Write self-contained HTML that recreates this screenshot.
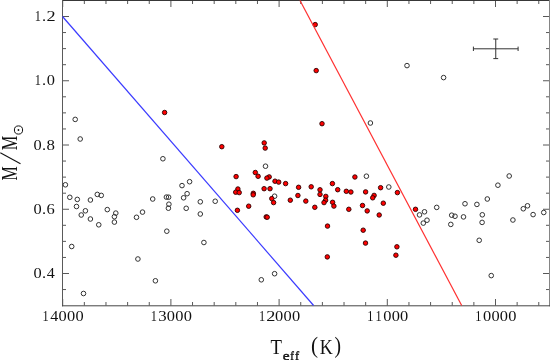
<!DOCTYPE html>
<html><head><meta charset="utf-8"><style>
html,body{margin:0;padding:0;background:#fff;}
svg{display:block;will-change:transform;}
text{-webkit-font-smoothing:antialiased;}
</style></head><body>
<svg width="550" height="360" viewBox="0 0 550 360">
<rect width="550" height="360" fill="#fff"/>
<path d="M62.70 305.5V299.00M62.70 0.5V7.00M84.34 305.5V302.00M84.34 0.5V4.00M105.98 305.5V302.00M105.98 0.5V4.00M127.62 305.5V302.00M127.62 0.5V4.00M149.26 305.5V302.00M149.26 0.5V4.00M170.90 305.5V299.00M170.90 0.5V7.00M192.54 305.5V302.00M192.54 0.5V4.00M214.18 305.5V302.00M214.18 0.5V4.00M235.82 305.5V302.00M235.82 0.5V4.00M257.46 305.5V302.00M257.46 0.5V4.00M279.10 305.5V299.00M279.10 0.5V7.00M300.74 305.5V302.00M300.74 0.5V4.00M322.38 305.5V302.00M322.38 0.5V4.00M344.02 305.5V302.00M344.02 0.5V4.00M365.66 305.5V302.00M365.66 0.5V4.00M387.30 305.5V299.00M387.30 0.5V7.00M408.94 305.5V302.00M408.94 0.5V4.00M430.58 305.5V302.00M430.58 0.5V4.00M452.22 305.5V302.00M452.22 0.5V4.00M473.86 305.5V302.00M473.86 0.5V4.00M495.50 305.5V299.00M495.50 0.5V7.00M517.14 305.5V302.00M517.14 0.5V4.00M538.78 305.5V302.00M538.78 0.5V4.00M62.5 289.56H66.00M549.5 289.56H546.00M62.5 273.50H69.00M549.5 273.50H543.00M62.5 257.44H66.00M549.5 257.44H546.00M62.5 241.37H66.00M549.5 241.37H546.00M62.5 225.31H66.00M549.5 225.31H546.00M62.5 209.25H69.00M549.5 209.25H543.00M62.5 193.19H66.00M549.5 193.19H546.00M62.5 177.12H66.00M549.5 177.12H546.00M62.5 161.06H66.00M549.5 161.06H546.00M62.5 145.00H69.00M549.5 145.00H543.00M62.5 128.94H66.00M549.5 128.94H546.00M62.5 112.87H66.00M549.5 112.87H546.00M62.5 96.81H66.00M549.5 96.81H546.00M62.5 80.75H69.00M549.5 80.75H543.00M62.5 64.69H66.00M549.5 64.69H546.00M62.5 48.62H66.00M549.5 48.62H546.00M62.5 32.56H66.00M549.5 32.56H546.00M62.5 16.50H69.00M549.5 16.50H543.00" stroke="#585858" stroke-width="1" fill="none"/>
<path d="M62 0.5H550" stroke="#383838" stroke-width="1"/>
<path d="M62.5 0V306.3" stroke="#5a5a5a" stroke-width="1"/>
<path d="M549.5 0V306.3" stroke="#858585" stroke-width="1"/>
<path d="M62 305.8H550" stroke="#454545" stroke-width="1"/>
<path d="M473.4 48.8H518.1M495.75 39V58.6M473.4 46.6V51M518.1 46.6V51M493.3 39H498.2M493.3 58.6H498.2" stroke="#333" stroke-width="1" fill="none"/>
<g fill="none" stroke="#333" stroke-width="1"><circle cx="65.4" cy="184.8" r="2.3"/><circle cx="69.8" cy="197.3" r="2.3"/><circle cx="77.3" cy="199.4" r="2.3"/><circle cx="76.5" cy="206.5" r="2.3"/><circle cx="81.25" cy="215" r="2.3"/><circle cx="85.4" cy="210.8" r="2.3"/><circle cx="90.4" cy="200" r="2.3"/><circle cx="90.4" cy="219" r="2.3"/><circle cx="97.3" cy="194.4" r="2.3"/><circle cx="101.25" cy="195.4" r="2.3"/><circle cx="98.75" cy="224.8" r="2.3"/><circle cx="107.3" cy="209.6" r="2.3"/><circle cx="115.8" cy="213.1" r="2.3"/><circle cx="114.4" cy="216.7" r="2.3"/><circle cx="114.4" cy="222.1" r="2.3"/><circle cx="136.5" cy="217.3" r="2.3"/><circle cx="142.5" cy="212.1" r="2.3"/><circle cx="152.7" cy="199" r="2.3"/><circle cx="71.7" cy="246.5" r="2.3"/><circle cx="83.5" cy="293.5" r="2.3"/><circle cx="137.9" cy="259" r="2.3"/><circle cx="155.4" cy="280.8" r="2.3"/><circle cx="75.2" cy="119.4" r="2.3"/><circle cx="80.2" cy="139" r="2.3"/><circle cx="162.9" cy="158.75" r="2.3"/><circle cx="166.4" cy="197.1" r="2.3"/><circle cx="168.6" cy="197.2" r="2.3"/><circle cx="168.9" cy="204.2" r="2.3"/><circle cx="168.4" cy="208.2" r="2.3"/><circle cx="182" cy="185.6" r="2.3"/><circle cx="189.6" cy="181.7" r="2.3"/><circle cx="187.1" cy="193.7" r="2.3"/><circle cx="183.6" cy="197.8" r="2.3"/><circle cx="186.2" cy="208.3" r="2.3"/><circle cx="200.3" cy="201.8" r="2.3"/><circle cx="200.3" cy="214" r="2.3"/><circle cx="215.2" cy="201.25" r="2.3"/><circle cx="166.8" cy="231.2" r="2.3"/><circle cx="203.9" cy="242.5" r="2.3"/><circle cx="261.3" cy="279.8" r="2.3"/><circle cx="274.6" cy="273.7" r="2.3"/><circle cx="265.5" cy="166.2" r="2.3"/><circle cx="274.6" cy="196.2" r="2.3"/><circle cx="366.4" cy="176.2" r="2.3"/><circle cx="388.8" cy="187" r="2.3"/><circle cx="424.5" cy="211.8" r="2.3"/><circle cx="419.5" cy="214.9" r="2.3"/><circle cx="427" cy="220.2" r="2.3"/><circle cx="423.3" cy="223.1" r="2.3"/><circle cx="436.7" cy="207.4" r="2.3"/><circle cx="451.7" cy="215.2" r="2.3"/><circle cx="455" cy="216.25" r="2.3"/><circle cx="450.8" cy="224.4" r="2.3"/><circle cx="463.5" cy="216.9" r="2.3"/><circle cx="465" cy="203.75" r="2.3"/><circle cx="476.9" cy="204.4" r="2.3"/><circle cx="487.3" cy="199" r="2.3"/><circle cx="482.3" cy="214.8" r="2.3"/><circle cx="482.1" cy="222.4" r="2.3"/><circle cx="479.2" cy="240.3" r="2.3"/><circle cx="509.2" cy="176" r="2.3"/><circle cx="497.9" cy="185.2" r="2.3"/><circle cx="512.9" cy="220" r="2.3"/><circle cx="523.3" cy="208.75" r="2.3"/><circle cx="527.5" cy="205.8" r="2.3"/><circle cx="533.1" cy="214.6" r="2.3"/><circle cx="543.75" cy="212.5" r="2.3"/><circle cx="491.25" cy="275.6" r="2.3"/><circle cx="407" cy="65.6" r="2.3"/><circle cx="443.6" cy="77.6" r="2.3"/><circle cx="370.4" cy="123" r="2.3"/></g>
<g fill="#ff0000" stroke="#2a0000" stroke-width="0.9"><circle cx="164.6" cy="112.5" r="2.25"/><circle cx="221.8" cy="146.7" r="2.25"/><circle cx="236.1" cy="176.6" r="2.25"/><circle cx="237.9" cy="189" r="2.25"/><circle cx="235.7" cy="192.2" r="2.25"/><circle cx="239.2" cy="192.6" r="2.25"/><circle cx="237.4" cy="210.3" r="2.25"/><circle cx="248.7" cy="206.2" r="2.25"/><circle cx="253.3" cy="193.3" r="2.25"/><circle cx="253.2" cy="194.8" r="2.25"/><circle cx="255.3" cy="172.5" r="2.25"/><circle cx="258.1" cy="176.3" r="2.25"/><circle cx="269.2" cy="176.9" r="2.25"/><circle cx="266.9" cy="178.1" r="2.25"/><circle cx="264.1" cy="188.7" r="2.25"/><circle cx="270" cy="188.7" r="2.25"/><circle cx="271.8" cy="198.6" r="2.25"/><circle cx="273.6" cy="202.6" r="2.25"/><circle cx="266.2" cy="216.9" r="2.25"/><circle cx="267.2" cy="217.2" r="2.25"/><circle cx="275" cy="181.2" r="2.25"/><circle cx="278.7" cy="182.1" r="2.25"/><circle cx="285.6" cy="183.6" r="2.25"/><circle cx="298.6" cy="187.3" r="2.25"/><circle cx="311.2" cy="186.8" r="2.25"/><circle cx="297.9" cy="195.5" r="2.25"/><circle cx="290.3" cy="200.2" r="2.25"/><circle cx="305.8" cy="201.1" r="2.25"/><circle cx="314.8" cy="207.3" r="2.25"/><circle cx="264.2" cy="142.9" r="2.25"/><circle cx="265.2" cy="148.1" r="2.25"/><circle cx="320" cy="189.8" r="2.25"/><circle cx="320" cy="194.4" r="2.25"/><circle cx="325.8" cy="196.4" r="2.25"/><circle cx="325.6" cy="200.2" r="2.25"/><circle cx="324" cy="202.6" r="2.25"/><circle cx="332.4" cy="183.6" r="2.25"/><circle cx="337.7" cy="189.7" r="2.25"/><circle cx="346.3" cy="191.3" r="2.25"/><circle cx="350.9" cy="192" r="2.25"/><circle cx="354.9" cy="177" r="2.25"/><circle cx="332.6" cy="202.3" r="2.25"/><circle cx="333.9" cy="206.1" r="2.25"/><circle cx="348.8" cy="209.3" r="2.25"/><circle cx="327.5" cy="226.1" r="2.25"/><circle cx="327.3" cy="256.9" r="2.25"/><circle cx="362.5" cy="205.5" r="2.25"/><circle cx="367.2" cy="210.9" r="2.25"/><circle cx="379.2" cy="215" r="2.25"/><circle cx="383.3" cy="203.2" r="2.25"/><circle cx="363.2" cy="230.2" r="2.25"/><circle cx="365.5" cy="243.1" r="2.25"/><circle cx="396.9" cy="246.8" r="2.25"/><circle cx="395.9" cy="255.2" r="2.25"/><circle cx="365.6" cy="191.9" r="2.25"/><circle cx="374.1" cy="195.4" r="2.25"/><circle cx="372.7" cy="197.8" r="2.25"/><circle cx="380.6" cy="187.7" r="2.25"/><circle cx="397.4" cy="192.6" r="2.25"/><circle cx="415.5" cy="209.3" r="2.25"/><circle cx="315.2" cy="24.6" r="2.25"/><circle cx="316.2" cy="70.6" r="2.25"/><circle cx="322" cy="123.7" r="2.25"/></g>
<line x1="62.5" y1="16.50" x2="313.6" y2="305.5" stroke="#3b3bff" stroke-width="1.2"/>
<line x1="300" y1="0.5" x2="461.7" y2="305.5" stroke="#ff3030" stroke-width="1.2"/>
<g font-family="Liberation Serif, serif" fill="#111"><text transform="translate(42.54 320.50) scale(0.878 1)" font-size="14.00">1</text><text transform="translate(50.23 320.50) scale(1.149 1)" font-size="14.00">4</text><text transform="translate(58.59 320.50) scale(1.173 1)" font-size="14.00">0</text><text transform="translate(67.04 320.50) scale(1.173 1)" font-size="14.00">0</text><text transform="translate(75.49 320.50) scale(1.173 1)" font-size="14.00">0</text><text transform="translate(150.74 320.50) scale(0.878 1)" font-size="14.00">1</text><text transform="translate(158.16 320.50) scale(1.202 1)" font-size="14.00">3</text><text transform="translate(166.79 320.50) scale(1.173 1)" font-size="14.00">0</text><text transform="translate(175.24 320.50) scale(1.173 1)" font-size="14.00">0</text><text transform="translate(183.69 320.50) scale(1.173 1)" font-size="14.00">0</text><text transform="translate(258.94 320.50) scale(0.878 1)" font-size="14.00">1</text><text transform="translate(266.27 320.50) scale(1.304 1)" font-size="14.00">2</text><text transform="translate(274.99 320.50) scale(1.173 1)" font-size="14.00">0</text><text transform="translate(283.44 320.50) scale(1.173 1)" font-size="14.00">0</text><text transform="translate(291.89 320.50) scale(1.173 1)" font-size="14.00">0</text><text transform="translate(367.14 320.50) scale(0.878 1)" font-size="14.00">1</text><text transform="translate(375.59 320.50) scale(0.878 1)" font-size="14.00">1</text><text transform="translate(383.19 320.50) scale(1.173 1)" font-size="14.00">0</text><text transform="translate(391.64 320.50) scale(1.173 1)" font-size="14.00">0</text><text transform="translate(400.09 320.50) scale(1.173 1)" font-size="14.00">0</text><text transform="translate(475.34 320.50) scale(0.878 1)" font-size="14.00">1</text><text transform="translate(482.94 320.50) scale(1.173 1)" font-size="14.00">0</text><text transform="translate(491.39 320.50) scale(1.173 1)" font-size="14.00">0</text><text transform="translate(499.84 320.50) scale(1.173 1)" font-size="14.00">0</text><text transform="translate(508.29 320.50) scale(1.173 1)" font-size="14.00">0</text><text transform="translate(33.49 278.10) scale(1.173 1)" font-size="14.00">0</text><text transform="translate(41.95 278.10) scale(1.169 1)" font-size="14.00">.</text><text transform="translate(46.78 278.10) scale(1.149 1)" font-size="14.00">4</text><text transform="translate(33.49 213.85) scale(1.173 1)" font-size="14.00">0</text><text transform="translate(41.95 213.85) scale(1.169 1)" font-size="14.00">.</text><text transform="translate(46.59 213.85) scale(1.179 1)" font-size="14.00">6</text><text transform="translate(33.49 149.60) scale(1.173 1)" font-size="14.00">0</text><text transform="translate(41.95 149.60) scale(1.169 1)" font-size="14.00">.</text><text transform="translate(46.57 149.60) scale(1.207 1)" font-size="14.00">8</text><text transform="translate(34.64 85.35) scale(0.878 1)" font-size="14.00">1</text><text transform="translate(41.95 85.35) scale(1.169 1)" font-size="14.00">.</text><text transform="translate(46.69 85.35) scale(1.173 1)" font-size="14.00">0</text><text transform="translate(34.64 21.10) scale(0.878 1)" font-size="14.00">1</text><text transform="translate(41.95 21.10) scale(1.169 1)" font-size="14.00">.</text><text transform="translate(46.42 21.10) scale(1.304 1)" font-size="14.00">2</text></g>
<g font-family="Liberation Serif, serif" fill="#111" stroke="#111" stroke-width="0.4"><text transform="translate(282.68 360.17) scale(1.193 1)" font-size="12.92">e</text><text transform="translate(290.37 360.43) scale(0.875 1)" font-size="12.57">f</text><text transform="translate(294.93 360.43) scale(0.981 1)" font-size="12.57">f</text></g>
<g font-family="Liberation Serif, serif" fill="#111"><text transform="translate(270.52 353.80) scale(0.897 1)" font-size="20.92">T</text><text transform="translate(310.95 353.17) scale(0.920 1)" font-size="23.00">(</text><text transform="translate(319.66 354.00) scale(0.852 1)" font-size="21.23">K</text><text transform="translate(334.51 353.17) scale(0.853 1)" font-size="23.00">)</text></g>
<g transform="translate(16.9 180) rotate(-90)" font-family="Liberation Serif, serif" fill="#111"><text transform="translate(-0.38 0.00) scale(0.723 1)" font-size="22.15">M</text><text transform="translate(29.71 0.00) scale(0.740 1)" font-size="22.15">M</text></g>
<line x1="0.3" y1="152.7" x2="20.5" y2="163.8" stroke="#111" stroke-width="1.1"/>
<circle cx="18.5" cy="130" r="4.1" fill="none" stroke="#111" stroke-width="1"/><circle cx="18.45" cy="130" r="0.9" fill="#111"/>
</svg>
</body></html>
